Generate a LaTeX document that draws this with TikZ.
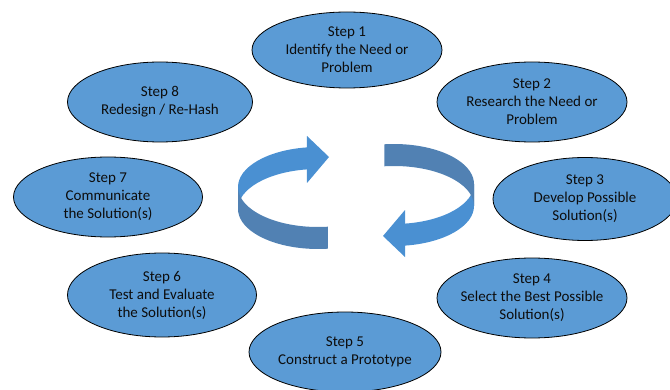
\documentclass[tikz,border=0pt]{standalone}
\usepackage{fontspec}
\setmainfont{Carlito}
\usetikzlibrary{shapes.geometric}
\definecolor{stepblue}{HTML}{5B9BD5}
\definecolor{ringlight}{HTML}{4A90D2}
\definecolor{ringdark}{HTML}{5181B3}
\tikzset{
  stepnode/.style={ellipse, draw=black, line width=0.8pt, fill=stepblue,
    inner xsep=-30pt, inner ysep=-12pt,
    align=center, text=black!95, font=\fontsize{15}{18}\selectfont},
}
\begin{document}
\begin{tikzpicture}[x=1pt,y=1pt]
        \useasboundingbox (0,0) rectangle (670,389);

        \node[stepnode, minimum width=190, minimum height=76] (s1) at (347,339) {Step 1\\Identify the Need or\\Problem};
        \node[stepnode, minimum width=190, minimum height=80] (s2) at (532,287) {Step 2\\Research the Need or\\Problem};
        \node[stepnode, minimum width=184, minimum height=83] (s3) at (585,190) {Step 3\\Develop Possible\\Solution(s)};
        \node[stepnode, minimum width=190, minimum height=80] (s4) at (532,91) {Step 4\\Select the Best Possible\\Solution(s)};
        \node[stepnode, minimum width=192, minimum height=80] (s5) at (345,37) {Step 5\\Construct a Prototype};
        \node[stepnode, minimum width=189, minimum height=84] (s6) at (162,94) {Step 6\\Test and Evaluate\\the Solution(s)};
        \node[stepnode, minimum width=189, minimum height=80] (s7) at (108,192) {Step 7\\Communicate\\the Solution(s)};
        \node[stepnode, minimum width=185, minimum height=80] (s8) at (160,287) {Step 8\\Redesign / Re-Hash};

        \fill[ringlight] (318,202) ++(98:80 and 40) arc[start angle=98, end angle=180, x radius=80, y radius=40]
            -- ++(0,-22) arc[start angle=180, end angle=98, x radius=80, y radius=40]
            -- (307,206) -- (329,232) -- (307,253) -- cycle;
        \fill[ringdark] (318,202) ++(180:80 and 40) arc[start angle=180, end angle=277, x radius=80, y radius=40]
            -- ++(0,-22) arc[start angle=277, end angle=180, x radius=80, y radius=40] -- cycle;

        \begin{scope}[rotate around={180:(356,192.5)}]
            \fill[ringlight] (318,202) ++(98:80 and 40) arc[start angle=98, end angle=180, x radius=80, y radius=40]
                -- ++(0,-22) arc[start angle=180, end angle=98, x radius=80, y radius=40]
                -- (307,206) -- (329,232) -- (307,253) -- cycle;
            \fill[ringdark] (318,202) ++(180:80 and 40) arc[start angle=180, end angle=277, x radius=80, y radius=40]
                -- ++(0,-22) arc[start angle=277, end angle=180, x radius=80, y radius=40] -- cycle;
        \end{scope}
\end{tikzpicture}
\end{document}
